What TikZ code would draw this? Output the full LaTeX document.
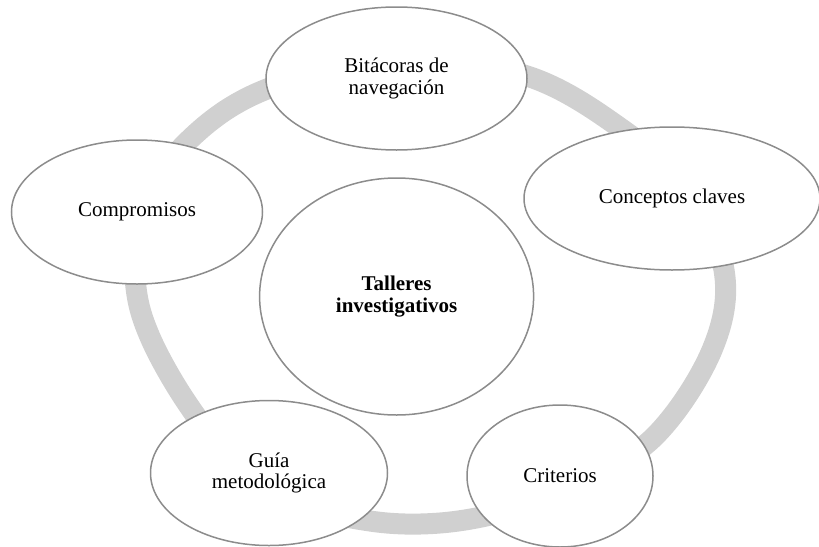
\documentclass[tikz,border=0pt]{standalone}
\usepackage{fontspec}
\setmainfont{Liberation Serif}
\usetikzlibrary{shapes.geometric}
\definecolor{ringgray}{RGB}{208,208,208}
\definecolor{edgegray}{RGB}{140,140,140}
\tikzset{
  basic oval/.style = {
    shape = ellipse,
    align = center,
    draw  = edgegray,
    fill  = white,
    line width = 1.5pt,
    inner sep = 0pt,
    minimum width = #1},
  basic oval/.default = 250pt
}

\begin{document}
\begin{tikzpicture}[x = 1pt, y = -1pt, nodes = {align = center, font = \fontsize{21}{21.5}\selectfont}]
  \useasboundingbox (0,0) rectangle (819,546);
  \clip (0,0) rectangle (819,546);
  % ring behind the ovals
  \draw[ringgray, line width = 21pt] plot[smooth cycle, tension = 0.6] coordinates {
    (135.5,283) (150,337) (187,403) (228,452) (300,502) (370,521) (440,523) (510,510)
    (575,485) (654,437) (712,350) (724,270) (685,188) (623,130) (527,76) (400,58)
    (267,89) (187,142) (138,215)};
  \node[basic oval = 261pt, minimum height = 143pt] (logs) at (396.5,78.5) {Bitácoras de\\navegación};
  \node[basic oval = 251pt, minimum height = 144pt] (commit) at (137,212) {Compromisos};
  \node[basic oval = 296pt, minimum height = 143pt] (concepts) at (672,198.5) {Conceptos claves};
  \node[basic oval = 274pt, minimum height = 237pt] (workshops) at (396.6,296.5) {\textbf{Talleres}\\\textbf{investigativos}};
  \node[basic oval = 237pt, minimum height = 145pt] (guide) at (269,473) {Guía\\metodológica};
  \node[basic oval = 186pt, minimum height = 142pt] (criteria) at (560,476) {Criterios};
\end{tikzpicture}
\end{document}
